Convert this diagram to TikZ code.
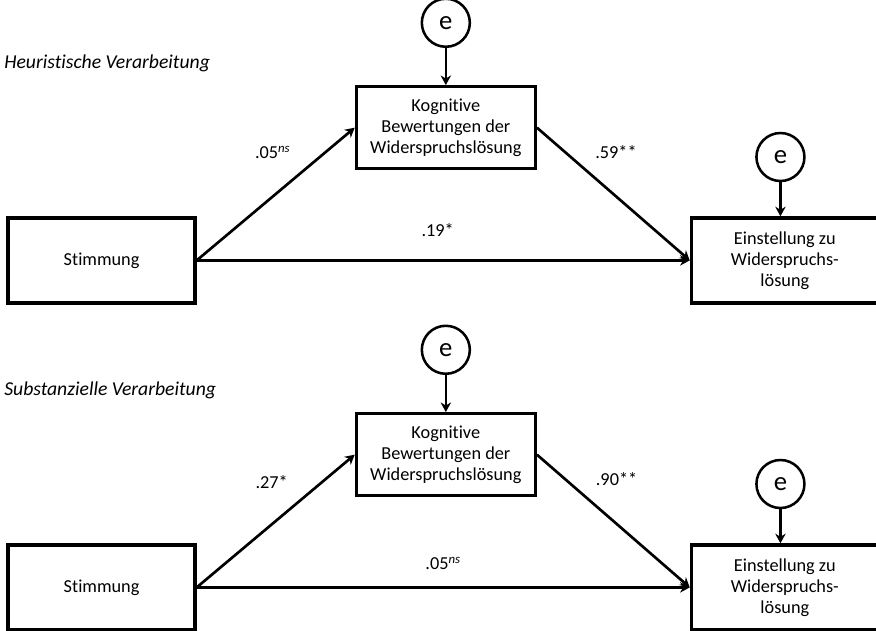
\documentclass[tikz,border=0pt]{standalone}
\usepackage{fontspec}
\setmainfont{Carlito}[Ligatures=CommonOff]
\usepackage{tikz}
\usetikzlibrary{positioning,arrows.meta,calc}
\tikzset{
  varbox/.style={rectangle,draw=black,line width=2.3pt,align=center,minimum width=4.675cm,minimum height=2.125cm,inner sep=2pt,font=\fontsize{13}{14.9}\selectfont},
  medbox/.style={varbox,minimum width=4.475cm,minimum height=2.05cm},
  errcirc/.style={circle,draw=black,line width=1.8pt,minimum size=1.2cm,inner sep=0pt,font=\fontsize{19}{20}\selectfont},
  coef/.style={inner sep=1pt,font=\fontsize{13}{14.9}\selectfont},
  heading/.style={anchor=west,inner sep=0pt,font=\fontsize{14}{16}\selectfont\itshape},
  edge/.style={-{Stealth[length=2.4mm,width=2.6mm]},line width=1.9pt}
}
\newcommand{\nsmark}{\textsuperscript{\textit{ns}}}

\begin{document}
\begin{tikzpicture}
  \useasboundingbox (0,0) rectangle (21.9,15.75);
  % Heuristische Verarbeitung
  \node[heading] (headA) at (0.1,14.175) {Heuristische Verarbeitung};
  \node[varbox] (stimmA) at (2.54,9.24) {Stimmung};
  \node[medbox,above right=1.15cm and 3.95cm of stimmA.north east,anchor=south west] (kognA) {Kognitive\\Bewertungen der\\Widerspruchslösung};
  \node[varbox,right=12.325cm of stimmA] (einstA) {Einstellung zu\\Widerspruchs-\\lösung};
  \node[errcirc,above=0.925cm of kognA] (ekognA) {e};
  \node[errcirc,above=0.85cm of einstA,xshift=-0.11cm] (eeinstA) {e};
  \draw[edge] (ekognA) -- (ekognA |- kognA.north);
  \draw[edge] (eeinstA) -- (eeinstA |- einstA.north);
  \draw[edge] (stimmA.east) -- (kognA.west);
  \draw[edge] (kognA.east) -- (einstA.west);
  \draw[edge] (stimmA.east) -- (einstA.west);
  \node[coef] (aA) at ($(stimmA.east)+(1.9,2.7)$) {.05\nsmark};
  \node[coef] (bA) at ($(kognA.east)+(1.975,-0.6)$) {.59**};
  \node[coef] (cA) at ($(stimmA.east)+(6.025,0.75)$) {.19*};

  % Substanzielle Verarbeitung
  \node[heading] (headB) at (0.1,6.0) {Substanzielle Verarbeitung};
  \node[varbox] (stimmB) at (2.54,1.065) {Stimmung};
  \node[medbox,above right=1.15cm and 3.95cm of stimmB.north east,anchor=south west] (kognB) {Kognitive\\Bewertungen der\\Widerspruchslösung};
  \node[varbox,right=12.325cm of stimmB] (einstB) {Einstellung zu\\Widerspruchs-\\lösung};
  \node[errcirc,above=0.925cm of kognB] (ekognB) {e};
  \node[errcirc,above=0.85cm of einstB,xshift=-0.11cm] (eeinstB) {e};
  \draw[edge] (ekognB) -- (ekognB |- kognB.north);
  \draw[edge] (eeinstB) -- (eeinstB |- einstB.north);
  \draw[edge] (stimmB.east) -- (kognB.west);
  \draw[edge] (kognB.east) -- (einstB.west);
  \draw[edge] (stimmB.east) -- (einstB.west);
  \node[coef] (aB) at ($(stimmB.east)+(1.875,2.625)$) {.27*};
  \node[coef] (bB) at ($(kognB.east)+(1.99,-0.6)$) {.90**};
  \node[coef] (cB) at ($(stimmB.east)+(6.16,0.6)$) {.05\nsmark};
\end{tikzpicture}
\end{document}
